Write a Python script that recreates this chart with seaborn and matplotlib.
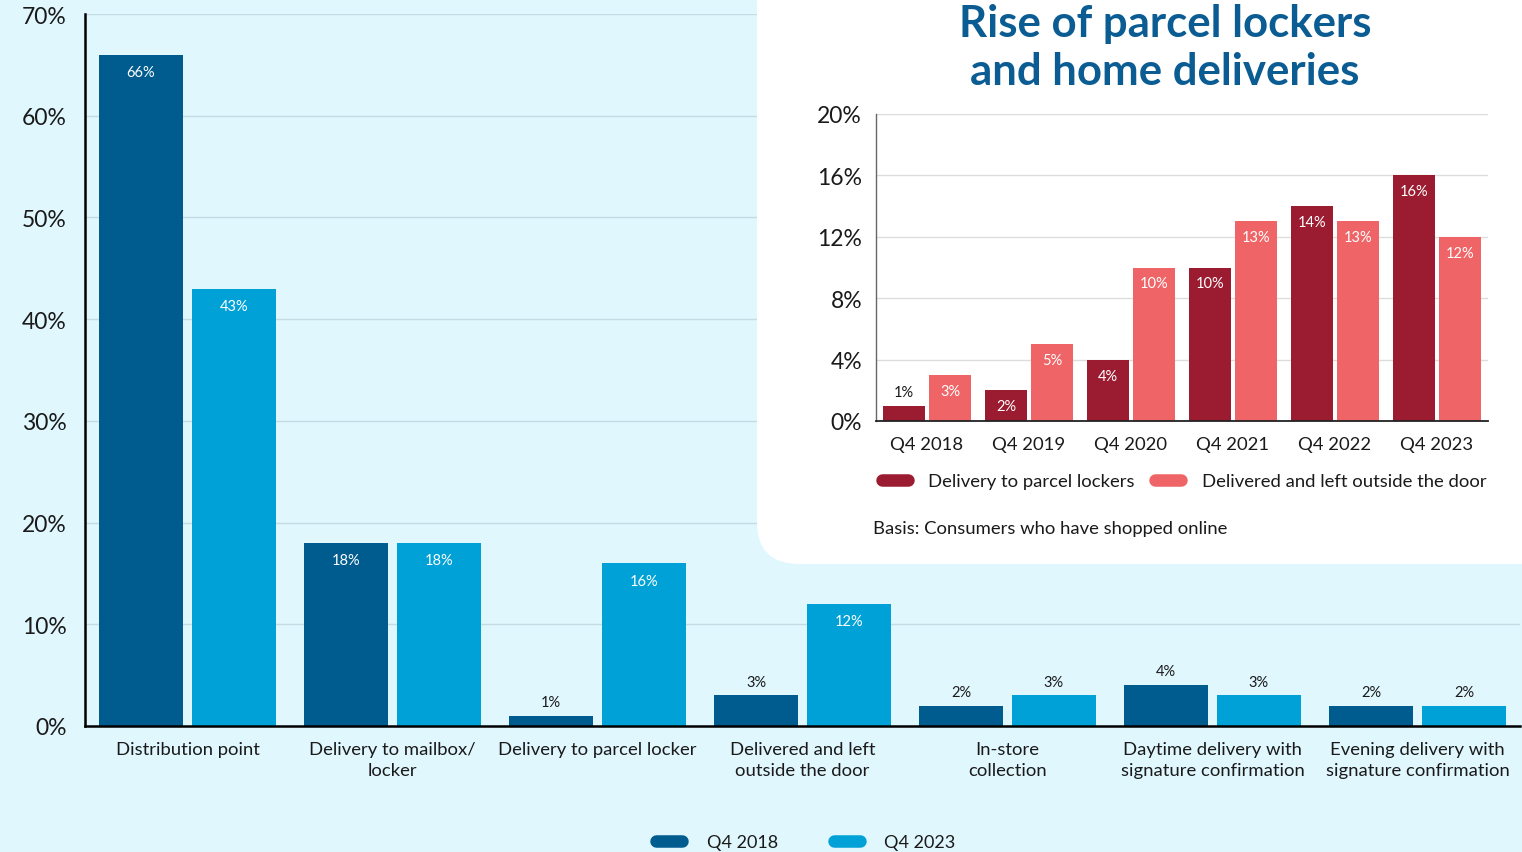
import matplotlib
matplotlib.use("Agg")
import matplotlib.pyplot as plt
import matplotlib.patches as mpatches
from matplotlib.lines import Line2D
import seaborn as sns
import pandas as pd

# ---------------- data ----------------
categories = ["Distribution point", "Delivery to mailbox/\nlocker", "Delivery to parcel locker",
              "Delivered and left\noutside the door", "In-store\ncollection",
              "Daytime delivery with\nsignature confirmation", "Evening delivery with\nsignature confirmation"]
q4_2018 = [66, 18, 1, 3, 2, 4, 2]
q4_2023 = [43, 18, 16, 12, 3, 3, 2]
main_series = ["Q4 2018", "Q4 2023"]
main_yticks = [0, 10, 20, 30, 40, 50, 60, 70]

quarters = ["Q4 2018", "Q4 2019", "Q4 2020", "Q4 2021", "Q4 2022", "Q4 2023"]
parcel_lockers = [1, 2, 4, 10, 14, 16]
outside_door = [3, 5, 10, 13, 13, 12]
inset_series = ["Delivery to parcel lockers", "Delivered and left outside the door"]
inset_yticks = [0, 4, 8, 12, 16, 20]

# ---------------- style ----------------
BG = "#e0f7fe"
DARK_BLUE = "#005b8f"
LIGHT_BLUE = "#00a1d7"
DARK_RED = "#9b1b30"
CORAL = "#ef6467"
TITLE = "#0a5c92"
TXT = "#1a1a1a"

sns.set_theme(style="white")
plt.rcParams["font.family"] = ["Lato", "DejaVu Sans"]

W, H = 1522, 853
fig = plt.figure(figsize=(W / 100, H / 100), dpi=100, facecolor=BG)

# ---------------- main chart ----------------
ax = fig.add_axes([85 / W, 1 - 727 / H, (1520 - 85) / W, (727 - 15) / H])
ax.set_facecolor(BG)
df_main = pd.DataFrame({
    "cat": categories * 2,
    "val": q4_2018 + q4_2023,
    "series": [main_series[0]] * len(categories) + [main_series[1]] * len(categories),
})
sns.barplot(data=df_main, x="cat", y="val", hue="series", order=categories,
            hue_order=main_series, palette=[DARK_BLUE, LIGHT_BLUE], saturation=1,
            width=0.907, gap=0.097, legend=False, ax=ax, zorder=2,
            edgecolor="none", linewidth=0)
ax.set_xlim(-0.5, len(categories) - 0.5)
ax.set_ylim(0, 70)
ax.set_yticks(main_yticks)
ax.set_yticklabels([f"{t}%" for t in main_yticks], fontsize=16.5, color=TXT)
ax.tick_params(axis="y", length=0, pad=13)
ax.set_xticks(range(len(categories)))
ax.set_xticklabels(categories, fontsize=13.3, color=TXT, linespacing=1.35)
ax.tick_params(axis="x", length=0, pad=11)
ax.set_xlabel("")
ax.set_ylabel("")
ax.grid(axis="y", color="#c4dbe3", lw=1, zorder=0)
ax.set_axisbelow(True)
for s in ["top", "right"]:
    ax.spines[s].set_visible(False)
ax.spines["left"].set_color("black")
ax.spines["left"].set_linewidth(1.8)
ax.spines["bottom"].set_color("black")
ax.spines["bottom"].set_linewidth(1.8)

for cont, vals in zip(ax.containers, [q4_2018, q4_2023]):
    for p, v in zip(cont.patches, vals):
        x = p.get_x() + p.get_width() / 2
        top = p.get_height()
        if v >= 10:
            ax.annotate(f"{v}%", (x, top), xytext=(0, -12.5), textcoords="offset points",
                        ha="center", va="center", color="white", fontsize=10.5, zorder=3)
        else:
            ax.annotate(f"{v}%", (x, top), xytext=(0, 10), textcoords="offset points",
                        ha="center", va="center", color=TXT, fontsize=10.5, zorder=3)

main_handles = [Line2D([0], [0], color=c, lw=9, solid_capstyle="round") for c in [DARK_BLUE, LIGHT_BLUE]]
fig.legend(main_handles, main_series, loc="center", bbox_to_anchor=(806 / W, 1 - 843 / H),
           ncol=2, frameon=False, fontsize=13, handlelength=1.45, columnspacing=3.1,
           handletextpad=1.35, labelcolor=TXT)

# ---------------- inset white box ----------------
box = mpatches.FancyBboxPatch((7.57, 2.88), 9.0, 7.0,
                              boxstyle="round,pad=0,rounding_size=0.42",
                              transform=fig.dpi_scale_trans, facecolor="white",
                              edgecolor="none", zorder=1)
fig.add_artist(box)

fig.text(1165 / W, 1 - 48 / H, "Rise of parcel lockers\nand home deliveries", ha="center",
         va="center", fontsize=31.5, fontweight="bold", color=TITLE, linespacing=1.22, zorder=3)

# ---------------- inset chart ----------------
ax2 = fig.add_axes([876 / W, 1 - 422 / H, (1488 - 876) / W, (422 - 115) / H], zorder=2)
ax2.set_facecolor("white")
df_in = pd.DataFrame({
    "q": quarters * 2,
    "val": parcel_lockers + outside_door,
    "series": [inset_series[0]] * len(quarters) + [inset_series[1]] * len(quarters),
})
sns.barplot(data=df_in, x="q", y="val", hue="series", order=quarters, hue_order=inset_series,
            palette=[DARK_RED, CORAL], saturation=1, width=0.902, gap=0.087, legend=False,
            ax=ax2, zorder=2, edgecolor="none", linewidth=0)
ax2.set_xlim(-0.5, len(quarters) - 0.5)
ax2.set_ylim(0, 20)
ax2.set_yticks(inset_yticks)
ax2.set_yticklabels([f"{t}%" for t in inset_yticks], fontsize=16.5, color=TXT)
ax2.tick_params(axis="y", length=0, pad=10)
ax2.tick_params(axis="x", length=0, pad=11, labelsize=13.3, labelcolor=TXT)
ax2.set_xlabel("")
ax2.set_ylabel("")
ax2.grid(axis="y", color="#dddddd", lw=1, zorder=0)
ax2.set_axisbelow(True)
for s in ["top", "right"]:
    ax2.spines[s].set_visible(False)
ax2.spines["left"].set_color("#666666")
ax2.spines["left"].set_linewidth(1)
ax2.spines["bottom"].set_color("#222222")
ax2.spines["bottom"].set_linewidth(1.3)

for cont, vals in zip(ax2.containers, [parcel_lockers, outside_door]):
    for p, v in zip(cont.patches, vals):
        x = p.get_x() + p.get_width() / 2
        top = p.get_height()
        if v >= 2:
            ax2.annotate(f"{v}%", (x, top), xytext=(0, -11.5), textcoords="offset points",
                         ha="center", va="center", color="white", fontsize=10.5, zorder=3)
        else:
            ax2.annotate(f"{v}%", (x, top), xytext=(0, 9.5), textcoords="offset points",
                         ha="center", va="center", color=TXT, fontsize=10.5, zorder=3)

inset_handles = [Line2D([0], [0], color=c, lw=9, solid_capstyle="round") for c in [DARK_RED, CORAL]]
fig.legend(inset_handles, inset_series, loc="center", bbox_to_anchor=(1184 / W, 1 - 482 / H),
           ncol=2, frameon=False, fontsize=13.3, handlelength=1.4, columnspacing=1.1,
           handletextpad=1.12, labelcolor=TXT)

fig.text(873 / W, 1 - 529 / H, "Basis: Consumers who have shopped online", ha="left",
         va="center", fontsize=13.3, color=TXT, zorder=3)

fig.savefig("out.png", dpi=100, facecolor=BG)
